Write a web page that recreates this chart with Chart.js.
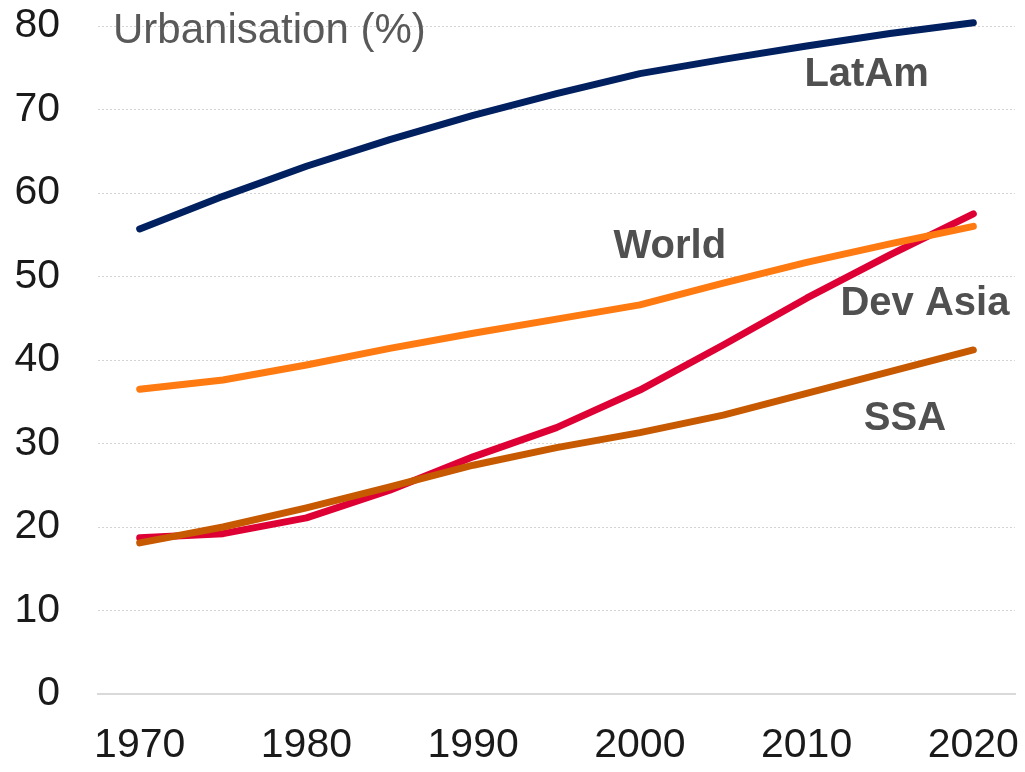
<!DOCTYPE html>
<html>
<head>
<meta charset="utf-8">
<title>Urbanisation</title>
<script src="https://cdn.jsdelivr.net/npm/chart.js@4.4.1/dist/chart.umd.min.js"></script>
<style>
  html, body { margin: 0; padding: 0; background: #fff; }
  #wrap { width: 1025px; height: 772px; }
</style>
</head>
<body>
<div id="wrap"><canvas id="urbChart"></canvas></div>
<script>
// datos (%), cada 5 años
const years = [1970, 1975, 1980, 1985, 1990, 1995, 2000, 2005, 2010, 2015, 2020];
const latAm = [55.7, 59.6, 63.2, 66.4, 69.3, 71.9, 74.3, 76.0, 77.6, 79.1, 80.4];
const world = [36.5, 37.6, 39.4, 41.4, 43.2, 44.9, 46.6, 49.2, 51.7, 53.9, 56.0];
const devAsia = [18.7, 19.2, 21.1, 24.4, 28.4, 31.9, 36.4, 41.8, 47.4, 52.6, 57.5];
const ssa = [18.1, 20.0, 22.3, 24.8, 27.4, 29.5, 31.3, 33.4, 36.0, 38.6, 41.2];
const xTicks = [1970, 1980, 1990, 2000, 2010, 2020];

// etiquetas dentro del grafico: [texto, año, valor]
const seriesLabels = [
    ["LatAm", 2013.6, 72.8],
    ["World", 2001.8, 52.2],
    ["Dev Asia", 2017.1, 45.4],
    ["SSA", 2015.9, 31.6]
];
const chartTitle = ["Urbanisation (%)", 1968.4, 78.0];

const FONT = "'Liberation Sans', Arial, sans-serif";

function toPoints(values) {
    return years.map((yr, i) => ({ x: yr, y: values[i] }));
}

function makeSet(label, values, color) {
    return {
        label: label,
        data: toPoints(values),
        borderColor: color,
        backgroundColor: color,
        borderWidth: 7,
        borderCapStyle: "round",
        borderJoinStyle: "round",
        pointRadius: 0,
        tension: 0,
        fill: false,
        clip: false
    };
}

// plugin para los textos
const textLabels = {
    id: "textLabels",
    afterDatasetsDraw(chart) {
        const ctx = chart.ctx;
        const xs = chart.scales.x;
        const ys = chart.scales.y;
        ctx.save();
        ctx.textBaseline = "alphabetic";

        ctx.font = "bold 40px " + FONT;
        ctx.fillStyle = "#505050";
        ctx.textAlign = "center";
        seriesLabels.forEach(l => {
            ctx.fillText(l[0], xs.getPixelForValue(l[1]), ys.getPixelForValue(l[2]));
        });

        ctx.font = "42px " + FONT;
        ctx.fillStyle = "#595959";
        ctx.textAlign = "left";
        ctx.fillText(chartTitle[0], xs.getPixelForValue(chartTitle[1]), ys.getPixelForValue(chartTitle[2]));
        ctx.restore();
    }
};

const ctx = document.getElementById("urbChart");

new Chart(ctx, {
    type: "line",
    data: {
        datasets: [
            makeSet("SSA", ssa, "#C75A00"),
            makeSet("World", world, "#FF7A10"),
            makeSet("Dev Asia", devAsia, "#DE0034"),
            makeSet("LatAm", latAm, "#002060")
        ]
    },
    options: {
        responsive: true,
        maintainAspectRatio: false,
        animation: false,
        layout: {
            padding: { left: 14, right: 10, top: 26, bottom: 2 }
        },
        plugins: {
            legend: { display: false },
            title: { display: false },
            tooltip: { enabled: false }
        },
        scales: {
            x: {
                type: "linear",
                min: 1967.5,
                max: 2022.5,
                afterBuildTicks: axis => {
                    axis.ticks = xTicks.map(v => ({ value: v }));
                },
                // sin relleno extra por las etiquetas de los extremos
                afterFit: axis => {
                    axis.paddingLeft = 0;
                    axis.paddingRight = 0;
                    axis.height = 76;
                },
                grid: { display: false, drawTicks: false },
                border: { display: true, color: "#d9d9d9", width: 2 },
                ticks: {
                    padding: 27,
                    color: "#1a1a1a",
                    font: { family: FONT, size: 41 },
                    maxRotation: 0,
                    autoSkip: false,
                    callback: v => String(v)
                }
            },
            y: {
                min: 0,
                max: 80,
                afterFit: axis => {
                    axis.paddingTop = 0;
                    axis.paddingBottom = 0;
                    axis.width = 84;
                },
                grid: {
                    color: "#d4d4d4",
                    lineWidth: 1,
                    drawTicks: false
                },
                border: { display: false, dash: [2, 2] },
                ticks: {
                    stepSize: 10,
                    padding: 38,
                    color: "#1a1a1a",
                    font: { family: FONT, size: 41 }
                }
            }
        }
    },
    plugins: [textLabels]
});
</script>
</body>
</html>
